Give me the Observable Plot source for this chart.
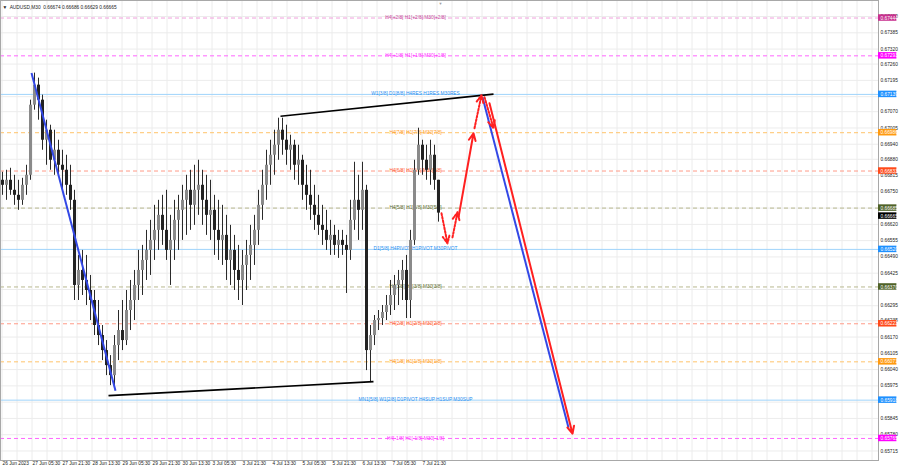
<!DOCTYPE html>
<html><head><meta charset="utf-8">
<script src="https://cdn.jsdelivr.net/npm/d3@7"></script>
<script src="https://cdn.jsdelivr.net/npm/@observablehq/plot@0.6"></script>
<style>body{margin:0;background:#fff} svg{display:block}</style>
</head><body><div id="chart"></div>
<script>
// ---- data (prices, one entry per ~2h column) ----
const symbol = "AUDUSD,M30";
const lastOHLC = [0.66674, 0.66686, 0.66629, 0.66665];
const firstOpen = 0.66796;
const highs = [0.66828,0.66836,0.66844,0.66816,0.66796,0.66804,0.66856,0.67116,0.67224,0.67204,
0.67136,0.67036,0.67016,0.66996,0.66956,0.66916,0.66896,0.66856,0.66756,0.66496,
0.66516,0.66496,0.66416,0.66356,0.66316,0.66216,0.66156,0.66096,0.66176,0.66276,
0.66316,0.66356,0.66396,0.66436,0.66516,0.66536,0.66596,0.66636,0.66696,0.66716,
0.66736,0.66756,0.66656,0.66716,0.66736,0.66776,0.66816,0.66836,0.66856,0.66876,
0.66836,0.66816,0.66796,0.66736,0.66716,0.66696,0.66656,0.66616,0.66576,0.66536,
0.66516,0.66556,0.66616,0.66656,0.66756,0.66836,0.66916,0.66956,0.66996,0.67044,
0.67044,0.67016,0.66976,0.66956,0.66936,0.66896,0.66856,0.66836,0.66776,0.66736,
0.66696,0.66676,0.66636,0.66616,0.66596,0.66596,0.66576,0.66716,0.66868,0.66816,
0.66868,0.66776,0.66216,0.66256,0.66276,0.66296,0.66336,0.66396,0.66416,0.66436,
0.66476,0.66496,0.66596,0.66876,0.67004,0.66956,0.66936,0.66956,0.66936,0.66796];
const lows = [0.66736,0.66716,0.66736,0.66696,0.66676,0.66696,0.66736,0.66796,0.67076,0.67036,
0.66916,0.66856,0.66836,0.66816,0.66816,0.66756,0.66736,0.66676,0.66316,0.66316,
0.66336,0.66296,0.66236,0.66176,0.66136,0.66076,0.66016,0.65976,0.65968,0.66076,
0.66116,0.66136,0.66196,0.66236,0.66316,0.66336,0.66396,0.66416,0.66476,0.66516,
0.66536,0.66476,0.66376,0.66476,0.66516,0.66556,0.66576,0.66596,0.66616,0.66656,
0.66616,0.66576,0.66556,0.66496,0.66476,0.66456,0.66396,0.66376,0.66356,0.66316,
0.66296,0.66356,0.66396,0.66456,0.66536,0.66636,0.66716,0.66776,0.66816,0.66876,
0.66896,0.66856,0.66836,0.66796,0.66776,0.66716,0.66676,0.66636,0.66596,0.66576,
0.66536,0.66516,0.66496,0.66496,0.66484,0.66496,0.66344,0.66476,0.66596,0.66556,
0.66596,0.66036,0.65988,0.66136,0.66196,0.66216,0.66236,0.66256,0.66276,0.66296,
0.66316,0.66244,0.66244,0.66536,0.66816,0.66816,0.66796,0.66776,0.66756,0.66629];
const closes = [0.66776,0.66796,0.66756,0.66736,0.66716,0.66776,0.66816,0.67096,0.67176,0.67116,
0.66956,0.66996,0.66876,0.66916,0.66856,0.66836,0.66776,0.66716,0.66376,0.66436,
0.66396,0.66356,0.66316,0.66216,0.66176,0.66116,0.66056,0.66016,0.66136,0.66196,
0.66156,0.66276,0.66316,0.66376,0.66436,0.66476,0.66516,0.66556,0.66596,0.66656,
0.66596,0.66516,0.66556,0.66636,0.66676,0.66716,0.66756,0.66696,0.66756,0.66776,
0.66716,0.66656,0.66676,0.66596,0.66556,0.66576,0.66476,0.66516,0.66436,0.66396,
0.66456,0.66496,0.66536,0.66596,0.66696,0.66776,0.66856,0.66896,0.66936,0.66996,
0.66956,0.66916,0.66936,0.66856,0.66876,0.66776,0.66736,0.66696,0.66656,0.66616,
0.66596,0.66556,0.66576,0.66536,0.66556,0.66536,0.66516,0.66636,0.66716,0.66676,
0.66756,0.66116,0.66176,0.66236,0.66244,0.66268,0.66296,0.66336,0.66376,0.66396,
0.66436,0.66316,0.66556,0.66836,0.66936,0.66876,0.66836,0.66896,0.66796,0.66665];

const timeLabels = ["26 Jun 2023","27 Jun 05:30","27 Jun 21:30","28 Jun 13:30","29 Jun 05:30",
"29 Jun 21:30","30 Jun 13:30","3 Jul 05:30","3 Jul 21:30","4 Jul 13:30","5 Jul 05:30",
"5 Jul 21:30","6 Jul 13:30","7 Jul 05:30","7 Jul 21:30"];
const priceTicks = [0.67450,0.67385,0.67320,0.67260,0.67195,0.67130,0.67070,0.67005,0.66940,0.66880,
0.66815,0.66750,0.66685,0.66620,0.66555,0.66490,0.66425,0.66360,0.66295,0.66235,0.66170,
0.66105,0.66040,0.65975,0.65910,0.65845,0.65780,0.65715];
// tick labels that are entirely covered by a level box in the reference
const hiddenTicks = [0.67130, 0.66685, 0.66360, 0.65910];

// Murrey math levels
const levelPrices = [0.67444,0.67293,0.67139,0.66986,0.66833,0.66685,0.66520,0.66370,0.66223,0.66071,0.65918,0.65765];
const levelNames = ["H4[+2/8] H1[+2/8] M30[+2/8]","H4[+1/8] H1[+1/8] M30[+1/8]",
"W1[3/8] D1[8/8] H4RES H1RES M30RES","H4[7/8] H1[7/8] M30[7/8]","H4[6/8] H1[6/8] M30[6/8]",
"H4[5/8] H1[5/8] M30[5/8]","D1[5/8] H4PIVOT H1PIVOT M30PIVOT","H4[3/8] H1[3/8] M30[3/8]",
"H4[2/8] H1[2/8] M30[2/8]","H4[1/8] H1[1/8] M30[1/8]","MN1[5/8] W1[2/8] D1PIVOT H4SUP H1SUP M30SUP",
"H4[-1/8] H1[-1/8] M30[-1/8]"];
const levelKinds = ["p2","p1","res","o","r","g","res","g","r","o","res","p1"];

// drawn objects: [xStart, priceStart, xEnd, priceEnd] in column units
const upperTrend = [69.5, 0.67052, 122.75, 0.67140];
const lowerTrend = [26.5, 0.65936, 92.75, 0.65992];
const blueDown = [7.25, 0.67224, 28.25, 0.65956];
const blueProjection = [120, 0.67128, 141.5, 0.65808];
const redSolid = [[114, 0.66648, 117.75, 0.66984],[121.75, 0.67104, 142.5, 0.65784]];
const redDotted = [[109.75, 0.66664, 111.25, 0.66544],[112.5, 0.66568, 113.75, 0.66668],
                   [118, 0.67004, 119.75, 0.67136],[120.5, 0.67128, 122.75, 0.67004]];
const shiftMarker = 109.5;

// ---- styles ----
const kindStyle = {
  p2:  {line:"#f0a0dc", text:"#c8509e", box:"#c8308e", dash:true},
  p1:  {line:"#ff66ff", text:"#ff30ff", box:"#ff00ff", dash:true},
  res: {line:"#9fd4fb", text:"#2b8ff0", box:"#1e90ff", dash:false},
  o:   {line:"#ffc36a", text:"#ff9a1a", box:"#ff9a10", dash:true},
  r:   {line:"#ff9a88", text:"#ff5a30", box:"#ff4a1a", dash:true},
  g:   {line:"#b8b890", text:"#5a6a30", box:"#4f6228", dash:true}
};
const FONT = "Liberation Sans, Arial, sans-serif";
const FS = 4.8;

const candles = highs.map((h, i) => ({i, high:h, low:lows[i], close:closes[i], open: i ? closes[i-1] : firstOpen}));
const levels = levelPrices.map((p, i) => ({price:p, name:levelNames[i], ...kindStyle[levelKinds[i]]}));
const seg = a => ({x1:a[0], y1:a[1], x2:a[2], y2:a[3]});

const X0 = -0.5, X1 = 219; // column units; 4 px per column
const gridX = d3.range(0, 59).map(k => (15*k - 0.5)/4);
const tickX = timeLabels.map((t, k) => ({t, x:(30*k - 0.5)/4}));
const fmt = d3.format(".5f");
const shownTicks = priceTicks.filter(t => !hiddenTicks.includes(t));

const chart = Plot.plot({
  width: 900, height: 468,
  marginLeft: 0, marginRight: 22, marginTop: 0, marginBottom: 8,
  x: {domain:[X0, X1], axis:null},
  y: {domain:[0.65677, 0.67514], axis:null},
  color: {type:"identity"},
  style: {fontFamily: FONT, background:"#fff"},
  marks: [
    Plot.ruleX(gridX, {stroke:"#ececec", strokeWidth:1}),
    Plot.ruleY(priceTicks, {stroke:"#ececec", strokeWidth:1}),
    Plot.ruleY(levels.filter(d=>d.dash), {y:"price", stroke:"line", strokeWidth:1, strokeDasharray:"4,3"}),
    Plot.ruleY(levels.filter(d=>!d.dash), {y:"price", stroke:"line", strokeWidth:1}),
    Plot.text(levels, {x:103.25, y:"price", text:"name", fill:"text", fontSize:FS, textAnchor:"middle", dy:-0.5}),
    // candles
    Plot.ruleX(candles, {x:"i", y1:"low", y2:"high", stroke:"#2a2a2a", strokeWidth:1}),
    Plot.ruleX(candles, {x:"i", y1:"open", y2:"close", stroke:d=>d.close>=d.open?"#8a8a8a":"#222", strokeWidth:3}),
    // trend lines
    Plot.link([seg(upperTrend), seg(lowerTrend)], {x1:"x1", y1:"y1", x2:"x2", y2:"y2", stroke:"#000", strokeWidth:1.6}),
    Plot.link([seg(blueDown), seg(blueProjection)], {x1:"x1", y1:"y1", x2:"x2", y2:"y2", stroke:"#3348e6", strokeWidth:2}),
    Plot.arrow(redSolid.map(seg), {x1:"x1", y1:"y1", x2:"x2", y2:"y2", stroke:"#ff2020", strokeWidth:2, headLength:6, headAngle:50}),
    Plot.arrow(redDotted.map(seg), {x1:"x1", y1:"y1", x2:"x2", y2:"y2", stroke:"#ff2020", strokeWidth:2, strokeDasharray:"2,1.6", headLength:6, headAngle:50}),
    // frame / axes lines
    Plot.frame({stroke:"#a8a8a8", strokeWidth:1}),
    Plot.text(["\u25BC"], {x:shiftMarker, frameAnchor:"top", dy:1.5, fontSize:4, fill:"#a0a0a0"}),
    // right price axis
    Plot.text(shownTicks, {x:X1, y:d=>d, text:d=>fmt(d), dx:2, textAnchor:"start", fontSize:FS, fill:"#222"}),
    Plot.rect([lastOHLC[3]], {x1:X1, x2:X1+4.6, y1:d=>d-0.00013, y2:d=>d+0.00013, fill:"#000", dy:3}),
    Plot.text([lastOHLC[3]], {x:X1, y:d=>d, text:d=>fmt(d), dx:2, dy:3, textAnchor:"start", fontSize:FS, fill:"#fff"}),
    Plot.rect(levels, {x1:X1, x2:X1+4.6, y1:d=>d.price-0.00013, y2:d=>d.price+0.00013, fill:"box"}),
    Plot.text(levels, {x:X1, y:"price", text:d=>fmt(d.price), dx:2, textAnchor:"start", fontSize:FS, fill:"#fff"}),
    // time axis
    Plot.text(tickX, {x:"x", frameAnchor:"bottom", text:"t", dy:4.5, dx:0.5, textAnchor:"start", fontSize:FS, fill:"#222"}),
    // header
    Plot.text([`\u25BC  ${symbol}  ${lastOHLC.map(fmt).join(" ")}`], {frameAnchor:"top-left", dx:2, dy:5, fontSize:FS, fill:"#222", textAnchor:"start"})
  ]
});
document.getElementById("chart").appendChild(chart);
</script>
</body></html>
